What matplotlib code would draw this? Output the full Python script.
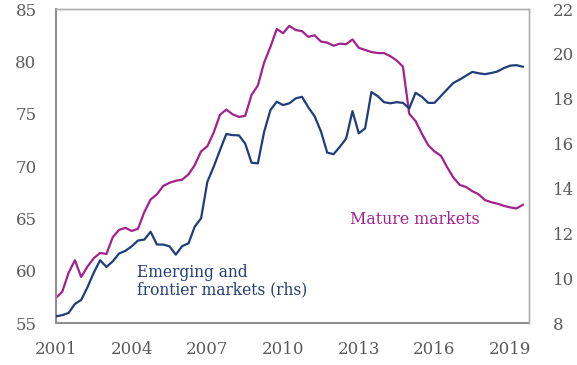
import numpy as np
import matplotlib.pyplot as plt

# quarterly, 2001Q1 .. 2019Q3
start_year = 2001
mature = [57.4, 58.0, 59.8, 61.0, 59.4, 60.4, 61.2, 61.7, 61.6, 63.2,
          63.9, 64.1, 63.8, 64.0, 65.6, 66.8, 67.3, 68.1, 68.4, 68.6,
          68.7, 69.2, 70.1, 71.4, 71.9, 73.2, 74.9, 75.4, 74.95, 74.7,
          74.8, 76.8, 77.7, 79.9, 81.4, 83.1, 82.7, 83.4, 83.0, 82.9,
          82.35, 82.5, 81.9, 81.8, 81.5, 81.7, 81.65, 82.1, 81.3, 81.1,
          80.9, 80.8, 80.8, 80.5, 80.1, 79.5, 75.0, 74.3, 73.1, 72.0,
          71.4, 71.0, 69.9, 68.9, 68.2, 68.0, 67.6, 67.3, 66.75, 66.55,
          66.4, 66.2, 66.05, 65.95, 66.3]
emerging = [8.3, 8.35, 8.45, 8.85, 9.03, 9.6, 10.25, 10.8, 10.5, 10.75,
            11.1, 11.22, 11.42, 11.68, 11.72, 12.07, 11.5, 11.5, 11.42, 11.05,
            11.43, 11.55, 12.3, 12.67, 14.3, 14.97, 15.71, 16.43, 16.38, 16.37,
            16.0, 15.15, 15.12, 16.53, 17.5, 17.87, 17.72, 17.8, 18.02, 18.09,
            17.62, 17.22, 16.55, 15.6, 15.53, 15.86, 16.23, 17.45, 16.46, 16.68,
            18.3, 18.12, 17.85, 17.8, 17.85, 17.82, 17.57, 18.27, 18.09, 17.82,
            17.82, 18.12, 18.42, 18.71, 18.86, 19.03, 19.2, 19.14, 19.1, 19.15,
            19.22, 19.37, 19.48, 19.5, 19.43]
year_ticks = [2001, 2004, 2007, 2010, 2013, 2016, 2019]

mature_col = '#a3218f'
em_col = '#1f3d78'
txt_col = '#5a5a5a'

plt.rcParams['font.family'] = 'DejaVu Serif'

x = start_year + np.arange(len(mature)) / 4

fig = plt.figure(figsize=(5.77, 3.65), dpi=100)
ax1 = fig.add_axes([0.097, 0.115, 0.82, 0.86])
ax2 = ax1.twinx()

ax1.plot(x, mature, color=mature_col, lw=1.6)
ax2.plot(x, emerging, color=em_col, lw=1.6)

ax1.set_xlim(2001.0, 2019.75)
ax1.set_ylim(55, 85)
ax2.set_ylim(8, 22)
ax1.set_xticks(year_ticks)
ax1.set_yticks(range(55, 86, 5))
ax2.set_yticks(range(8, 23, 2))

for a in (ax1, ax2):
    a.tick_params(length=0, labelsize=12, colors=txt_col)
    for s in a.spines.values():
        s.set_color('#b0b0b0')
        s.set_linewidth(1.0)
ax1.tick_params(axis='y', pad=14)
ax1.tick_params(axis='x', pad=13)
ax2.tick_params(axis='y', pad=17)
ax1.spines['left'].set_color('#909090')
ax1.spines['bottom'].set_color('#909090')
ax1.spines['left'].set_linewidth(1.5)
ax1.spines['bottom'].set_linewidth(1.5)
ax2.spines['left'].set_visible(False)
ax2.spines['bottom'].set_visible(False)

ax1.text(2004.2, 59.0, 'Emerging and\nfrontier markets (rhs)', color=em_col,
         fontsize=11.2, linespacing=1.05, va='center', ha='left')
ax1.text(2012.65, 64.9, 'Mature markets', color=mature_col,
         fontsize=11.4, va='center', ha='left')

fig.savefig('out.png', dpi=100)
